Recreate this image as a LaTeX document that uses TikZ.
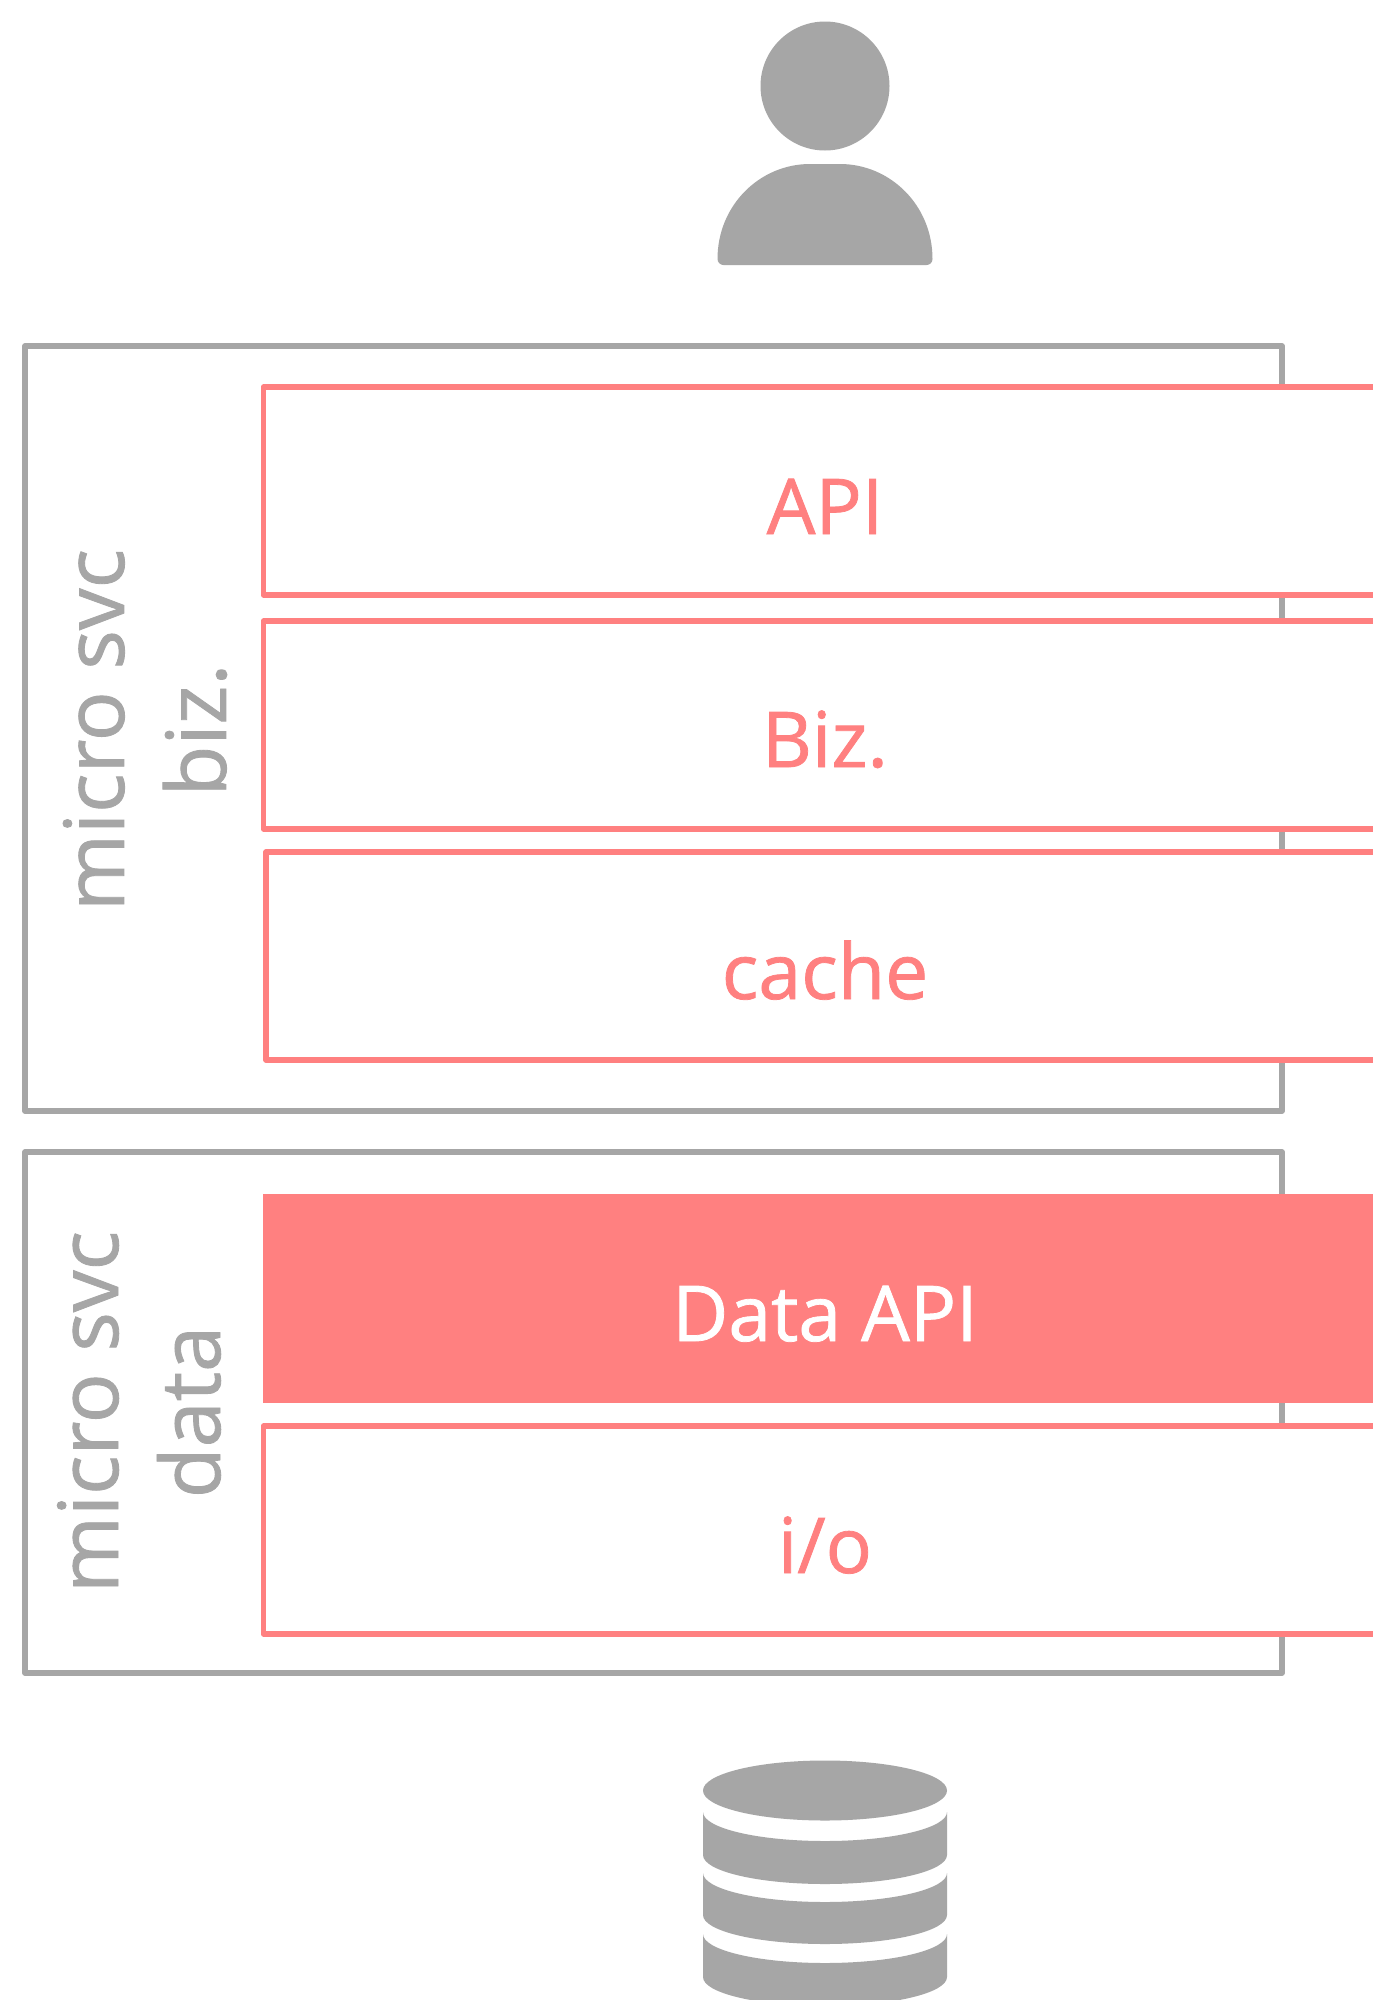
\documentclass[tikz,border=0pt]{standalone}
\usepackage{fontspec}
\setmainfont[FakeBold=1.0]{Open Sans}
\definecolor{graycol}{HTML}{A6A6A6}
\definecolor{redcol}{HTML}{FF8080}
\tikzset{
  px/.style={x=1pt,y=-1pt},
  grayframe/.style={draw=graycol,line width=5.5pt,line join=round,fill=white},
  redbox/.style={draw=redcol,line width=5.5pt,line join=round,fill=white},
  redfill/.style={fill=redcol},
  boxlabel/.style={font=\fontsize{77}{90}\selectfont\addfontfeature{FakeBold=1.0},text=redcol,inner sep=0pt,anchor=base},
  sidelabel/.style={font=\fontsize{83}{102}\selectfont\addfontfeature{FakeBold=1.0},text=graycol,inner sep=0pt,align=center,rotate=90},
  icon/.style={fill=graycol,draw=none}
}
\begin{document}
\begin{tikzpicture}[px]
\useasboundingbox (0,0) rectangle (1373,2000);
\clip (0,0) rectangle (1373,2000);
\fill[white] (0,0) rectangle (1373,2000);
% person
\fill[icon] (825,86) circle (64.5);
\fill[icon] (717.5,259) .. controls (717.5,205) and (760,164) .. (810,164) -- (840,164) .. controls (890,164) and (932.5,205) .. (932.5,259) arc[start angle=0,end angle=90,radius=6pt,y radius=-6pt] -- (723.5,265) arc[start angle=90,end angle=180,radius=6pt,y radius=-6pt] -- cycle;
% frames
\draw[grayframe] (25,346) rectangle (1282,1111);
\draw[grayframe] (25,1152) rectangle (1282,1673);
% red boxes
\draw[redbox] (263.5,387) rectangle (1400,595);
\draw[redbox] (263.5,621) rectangle (1400,829);
\draw[redbox] (266,852) rectangle (1400,1060);
\fill[redfill] (263,1194) rectangle (1400,1403);
\draw[redbox] (263.5,1426) rectangle (1400,1634);
\node[boxlabel] (api) at (825,534) {API};
\node[boxlabel] (biz) at (825,767) {Biz.};
\node[boxlabel] (cache) at (825,999) {cache};
\node[boxlabel,text=white] (dataapi) at (825,1341) {Data API};
\node[boxlabel] (io) at (825,1573) {i/o};
\node[sidelabel] (svcbiz) at (145,730) {micro svc\\biz.};
\node[sidelabel] (svcdata) at (139,1412) {micro svc\\data};
% database
\fill[icon] (825,1790.5) ellipse [x radius=122,y radius=30];
\foreach \ya/\yb in {1812/1855,1873/1915,1934/1977}{
  \fill[icon] (703,\ya) arc[start angle=180,end angle=360,x radius=122,y radius=-29] -- (947,\yb) arc[start angle=0,end angle=-180,x radius=122,y radius=-29] -- cycle;
}
\end{tikzpicture}
\end{document}
